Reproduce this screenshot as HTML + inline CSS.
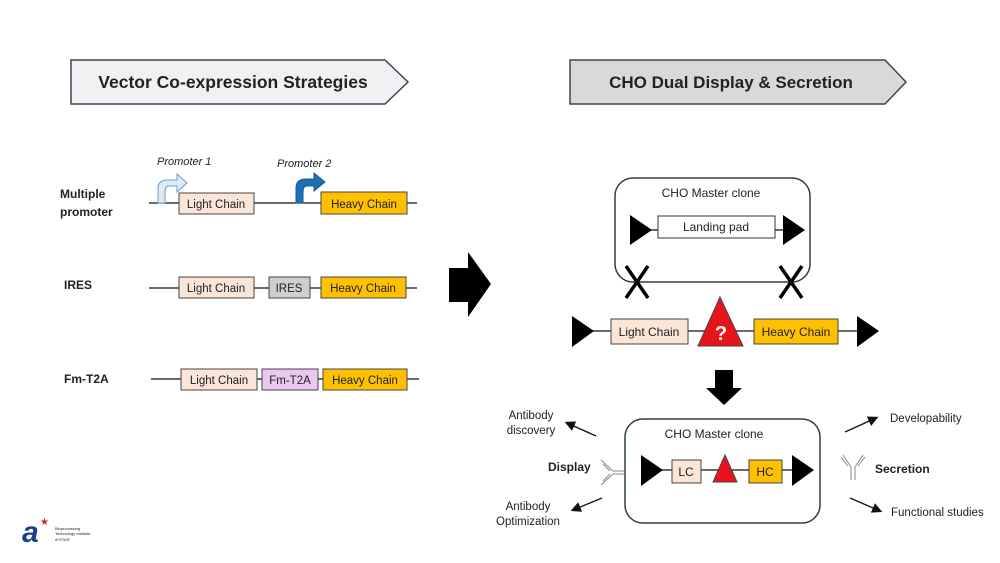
<!DOCTYPE html>
<html><head><style>body{margin:0;background:#fff}svg{display:block}text{font-family:"Liberation Sans",sans-serif;fill:#222}</style></head><body>
<svg width="1000" height="563" viewBox="0 0 1000 563" xmlns="http://www.w3.org/2000/svg">
<defs><marker id="ah" markerWidth="8" markerHeight="8" refX="6" refY="4" orient="auto"><path d="M0,0 L8,4 L0,8 z" fill="#111"/></marker></defs>
<polygon points="71,60 385,60 408,82 385,104 71,104" fill="#f1f1f3" stroke="#3a4654" stroke-width="1.5"/>
<text x="233" y="88" font-size="17.5" font-weight="bold" text-anchor="middle">Vector Co-expression Strategies</text>
<polygon points="570,60 885,60 906,82 885,104 570,104" fill="#d9d9d9" stroke="#3a4654" stroke-width="1.5"/>
<text x="731" y="88" font-size="17" font-weight="bold" text-anchor="middle">CHO Dual Display &amp; Secretion</text>
<g font-size="12" font-weight="bold"><text x="60" y="198">Multiple</text><text x="60" y="216">promoter</text><text x="64" y="289">IRES</text><text x="64" y="383">Fm-T2A</text></g>
<g font-size="11" font-style="italic"><text x="157" y="165">Promoter 1</text><text x="277" y="167">Promoter 2</text></g>
<g stroke="#111" stroke-width="1.3">
<line x1="149" y1="203" x2="417" y2="203"/><line x1="149" y1="288" x2="417" y2="288"/><line x1="151" y1="379" x2="419" y2="379"/>
</g>
<path d="M158,203 V188 Q158,180 168,180 H177 V174 L187,183 L177,192 V186 H169 Q165,186 165,192 V203 Z" fill="#deebf7" stroke="#6a9ccc" stroke-width="1"/>
<path d="M296,203 V188 Q296,179 306,179 H314 V173 L325,182 L314,191 V186 H307 Q303,186 303,192 V203 Z" fill="#1f6fb4" stroke="#1a5a94" stroke-width="1"/>
<g stroke="#444" stroke-width="1" font-size="11.5">
<rect x="179" y="193" width="75" height="21" fill="#fbe5d6"/><rect x="321" y="192" width="86" height="22" fill="#ffc000"/>
<rect x="179" y="277" width="75" height="21" fill="#fbe5d6"/><rect x="269" y="277" width="41" height="21" fill="#d0cece"/><rect x="321" y="277" width="85" height="21" fill="#ffc000"/>
<rect x="181" y="369" width="76" height="21" fill="#fbe5d6"/><rect x="262" y="369" width="56" height="21" fill="#ebc8ef"/><rect x="323" y="369" width="84" height="21" fill="#ffc000"/>
</g>
<g font-size="11.5" text-anchor="middle">
<text x="216" y="208">Light Chain</text><text x="364" y="208">Heavy Chain</text>
<text x="216" y="292">Light Chain</text><text x="289" y="292">IRES</text><text x="363" y="292">Heavy Chain</text>
<text x="219" y="384">Light Chain</text><text x="290" y="384">Fm-T2A</text><text x="365" y="384">Heavy Chain</text>
</g>
<polygon points="449,268 468,268 468,252 491,284 468,317 468,302 449,302" fill="#000"/>
<rect x="615" y="178" width="195" height="104" rx="18" fill="#fff" stroke="#2c3e4c" stroke-width="1.5"/>
<text x="711" y="197" font-size="12" text-anchor="middle">CHO Master clone</text>
<line x1="640" y1="230" x2="800" y2="230" stroke="#111" stroke-width="1.3"/>
<polygon points="630,215 652,230 630,245" fill="#000"/><polygon points="783,215 805,230 783,245" fill="#000"/>
<rect x="658" y="216" width="117" height="22" fill="#fff" stroke="#333"/>
<text x="716" y="231" font-size="12" text-anchor="middle">Landing pad</text>
<g stroke="#000" stroke-width="3.5">
<line x1="626" y1="266" x2="648" y2="298"/><line x1="648" y1="266" x2="626" y2="298"/>
<line x1="780" y1="266" x2="802" y2="298"/><line x1="802" y1="266" x2="780" y2="298"/>
</g>
<line x1="580" y1="331" x2="870" y2="331" stroke="#111" stroke-width="1.3"/>
<polygon points="572,316 594,331 572,347" fill="#000"/><polygon points="857,316 879,331 857,347" fill="#000"/>
<rect x="611" y="319" width="77" height="25" fill="#fbe5d6" stroke="#444"/><text x="649" y="336" font-size="12" text-anchor="middle">Light Chain</text>
<polygon points="720,297 743,346 698,346" fill="#e8141c" stroke="#444"/><text x="721" y="340" font-size="20" font-weight="bold" style="fill:#fff" text-anchor="middle">?</text>
<rect x="754" y="319" width="84" height="25" fill="#ffc000" stroke="#444"/><text x="796" y="336" font-size="12" text-anchor="middle">Heavy Chain</text>
<polygon points="715,370 733,370 733,388 742,388 724,405 706,388 715,388" fill="#000"/>
<rect x="625" y="419" width="195" height="104" rx="18" fill="#fff" stroke="#2c3e4c" stroke-width="1.5"/>
<text x="714" y="438" font-size="12" text-anchor="middle">CHO Master clone</text>
<line x1="650" y1="470" x2="800" y2="470" stroke="#111" stroke-width="1.3"/>
<polygon points="641,455 663,470 641,486" fill="#000"/><polygon points="792,455 814,470 792,486" fill="#000"/>
<rect x="672" y="460" width="29" height="23" fill="#fbe5d6" stroke="#444"/><text x="686" y="476" font-size="12" text-anchor="middle">LC</text>
<polygon points="725,455 737,482 713,482" fill="#e8141c" stroke="#444"/>
<rect x="749" y="460" width="33" height="23" fill="#ffc000" stroke="#444"/><text x="765" y="476" font-size="12" text-anchor="middle">HC</text>
<g font-size="11.5"><text x="531" y="419" text-anchor="middle">Antibody</text><text x="531" y="434" text-anchor="middle">discovery</text>
<text x="528" y="510" text-anchor="middle">Antibody</text><text x="528" y="525" text-anchor="middle">Optimization</text>
<text x="890" y="422">Developability</text><text x="891" y="516">Functional studies</text></g>
<g font-size="12" font-weight="bold"><text x="548" y="471">Display</text><text x="875" y="473">Secretion</text></g>
<g stroke="#111" stroke-width="1.3" marker-end="url(#ah)">
<line x1="596" y1="436" x2="567" y2="423"/><line x1="602" y1="498" x2="573" y2="510"/>
<line x1="845" y1="432" x2="876" y2="418"/><line x1="850" y1="498" x2="880" y2="511"/>
</g>
<g stroke="#888" stroke-width="1" fill="none">
<path d="M625,471 H613 L601,460 M625,474 H613 L601,485 M610,471 L603,464 M610,474 L603,481"/>
<path d="M851,480 V467 L843,455 M855,480 V467 L863,455 M848,466 L841,457 M858,466 L865,457"/>
</g>
<text x="22" y="542" font-size="30" font-style="italic" font-weight="bold" style="fill:#1b3f8f" font-family="Liberation Serif">a</text>
<text x="40" y="525" font-size="10" style="fill:#d22">★</text>
<g font-size="4" style="fill:#2a3f7f"><text x="55" y="530">Bioprocessing</text><text x="55" y="535">Technology Institute</text><text x="55" y="541">A*STAR</text></g>
</svg>
</body></html>
